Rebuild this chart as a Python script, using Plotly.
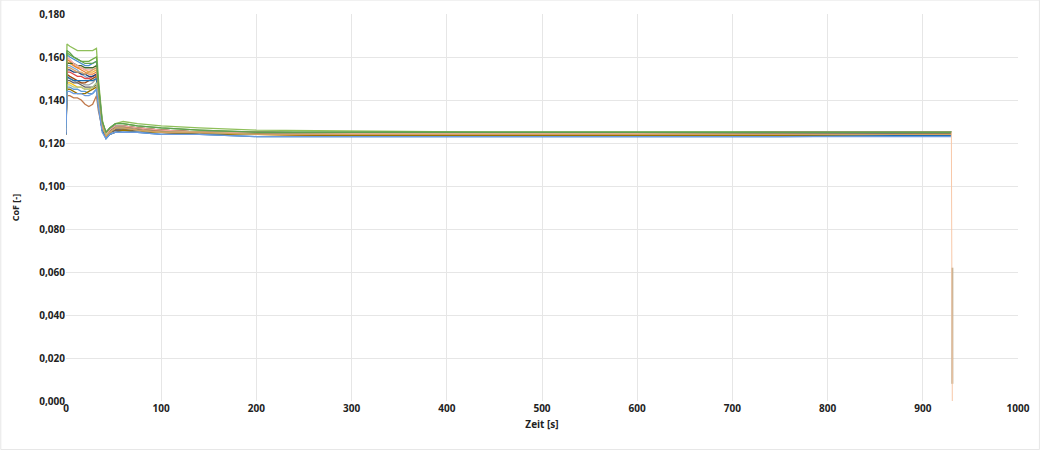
import plotly.graph_objects as go

# time points [s]
T = [0, 1, 4, 8, 12, 16, 20, 24, 28, 32, 34, 38, 42, 46, 52, 60, 75, 100, 140, 200, 300, 450, 600, 750, 900, 930]

s01 = [0.125, 0.166, 0.165, 0.164, 0.163, 0.163, 0.163, 0.163, 0.163, 0.164, 0.150, 0.131, 0.124, 0.127, 0.129, 0.130, 0.129, 0.128, 0.127, 0.126, 0.1255, 0.125, 0.125, 0.125, 0.125, 0.125]
s02 = [0.128, 0.142, 0.142, 0.141, 0.141, 0.140, 0.138, 0.137, 0.138, 0.142, 0.135, 0.127, 0.123, 0.125, 0.126, 0.126, 0.126, 0.125, 0.125, 0.124, 0.124, 0.124, 0.124, 0.124, 0.124, 0.124]
s03 = [0.126, 0.161, 0.160, 0.159, 0.158, 0.157, 0.156, 0.156, 0.157, 0.158, 0.146, 0.129, 0.124, 0.126, 0.128, 0.128, 0.127, 0.126, 0.125, 0.125, 0.124, 0.124, 0.124, 0.124, 0.124, 0.124]
s04 = [0.124, 0.158, 0.157, 0.156, 0.155, 0.155, 0.154, 0.153, 0.153, 0.154, 0.144, 0.128, 0.123, 0.125, 0.127, 0.128, 0.127, 0.126, 0.125, 0.124, 0.124, 0.124, 0.124, 0.124, 0.124, 0.124]
s05 = [0.127, 0.156, 0.156, 0.155, 0.154, 0.152, 0.151, 0.150, 0.151, 0.152, 0.142, 0.128, 0.124, 0.126, 0.127, 0.127, 0.127, 0.126, 0.125, 0.125, 0.124, 0.124, 0.1245, 0.1245, 0.1245, 0.1245]
s06 = [0.125, 0.153, 0.153, 0.152, 0.151, 0.151, 0.150, 0.150, 0.151, 0.152, 0.141, 0.127, 0.123, 0.125, 0.126, 0.127, 0.126, 0.126, 0.125, 0.124, 0.124, 0.124, 0.124, 0.124, 0.124, 0.124]
s07 = [0.126, 0.150, 0.150, 0.149, 0.148, 0.148, 0.147, 0.147, 0.148, 0.150, 0.140, 0.127, 0.124, 0.126, 0.127, 0.128, 0.127, 0.126, 0.125, 0.125, 0.1245, 0.1245, 0.1245, 0.125, 0.125, 0.125]
s08 = [0.124, 0.148, 0.148, 0.147, 0.146, 0.146, 0.145, 0.145, 0.146, 0.147, 0.139, 0.126, 0.123, 0.125, 0.126, 0.126, 0.126, 0.125, 0.124, 0.124, 0.1235, 0.1235, 0.1235, 0.1235, 0.124, 0.124]
s09 = [0.125, 0.146, 0.146, 0.145, 0.145, 0.144, 0.144, 0.143, 0.143, 0.145, 0.137, 0.126, 0.123, 0.125, 0.126, 0.127, 0.126, 0.125, 0.125, 0.124, 0.124, 0.124, 0.124, 0.124, 0.124, 0.124]
s10 = [0.126, 0.162, 0.161, 0.160, 0.159, 0.158, 0.158, 0.158, 0.159, 0.160, 0.148, 0.130, 0.125, 0.127, 0.129, 0.129, 0.128, 0.127, 0.126, 0.125, 0.125, 0.125, 0.125, 0.125, 0.125, 0.125]
s11 = [0.125, 0.159, 0.158, 0.156, 0.155, 0.154, 0.153, 0.152, 0.152, 0.153, 0.143, 0.128, 0.124, 0.126, 0.127, 0.127, 0.127, 0.126, 0.125, 0.124, 0.124, 0.124, 0.124, 0.124, 0.124, 0.124]
s12 = [0.127, 0.154, 0.154, 0.153, 0.153, 0.152, 0.152, 0.151, 0.151, 0.152, 0.142, 0.127, 0.123, 0.126, 0.127, 0.127, 0.126, 0.125, 0.125, 0.124, 0.124, 0.124, 0.124, 0.124, 0.1245, 0.1245]
s13 = [0.124, 0.152, 0.151, 0.150, 0.149, 0.148, 0.148, 0.149, 0.150, 0.151, 0.141, 0.127, 0.123, 0.125, 0.126, 0.126, 0.126, 0.125, 0.124, 0.124, 0.1235, 0.1235, 0.124, 0.124, 0.124, 0.124]
s14 = [0.126, 0.149, 0.149, 0.148, 0.148, 0.147, 0.146, 0.146, 0.146, 0.147, 0.139, 0.126, 0.124, 0.125, 0.126, 0.126, 0.126, 0.125, 0.125, 0.124, 0.124, 0.124, 0.124, 0.124, 0.124, 0.124]
s15 = [0.125, 0.145, 0.145, 0.144, 0.143, 0.143, 0.143, 0.144, 0.145, 0.146, 0.138, 0.126, 0.123, 0.124, 0.125, 0.126, 0.125, 0.125, 0.124, 0.124, 0.1235, 0.1235, 0.1235, 0.1235, 0.124, 0.124]
s16 = [0.126, 0.157, 0.157, 0.157, 0.156, 0.156, 0.155, 0.155, 0.155, 0.156, 0.145, 0.128, 0.124, 0.126, 0.128, 0.128, 0.127, 0.126, 0.125, 0.125, 0.1245, 0.1245, 0.1245, 0.125, 0.125, 0.125]
s17 = [0.125, 0.160, 0.159, 0.157, 0.156, 0.155, 0.154, 0.154, 0.154, 0.155, 0.145, 0.129, 0.124, 0.126, 0.128, 0.128, 0.127, 0.126, 0.125, 0.125, 0.1245, 0.1245, 0.1245, 0.125, 0.125, 0.125]
s18 = [0.124, 0.151, 0.150, 0.149, 0.149, 0.149, 0.149, 0.149, 0.149, 0.150, 0.140, 0.126, 0.122, 0.124, 0.125, 0.125, 0.125, 0.124, 0.124, 0.123, 0.123, 0.123, 0.123, 0.123, 0.1235, 0.1235]
s19 = [0.126, 0.147, 0.147, 0.146, 0.146, 0.146, 0.145, 0.145, 0.146, 0.148, 0.139, 0.127, 0.124, 0.125, 0.127, 0.127, 0.126, 0.125, 0.125, 0.124, 0.124, 0.124, 0.124, 0.124, 0.124, 0.124]
s20 = [0.125, 0.155, 0.155, 0.154, 0.153, 0.153, 0.152, 0.153, 0.154, 0.155, 0.144, 0.128, 0.123, 0.125, 0.127, 0.127, 0.126, 0.125, 0.125, 0.124, 0.124, 0.124, 0.124, 0.124, 0.124, 0.124]
s21 = [0.127, 0.163, 0.162, 0.160, 0.159, 0.158, 0.157, 0.157, 0.157, 0.158, 0.147, 0.130, 0.125, 0.127, 0.129, 0.129, 0.128, 0.127, 0.126, 0.125, 0.125, 0.125, 0.125, 0.125, 0.125, 0.125]
s22 = [0.124, 0.144, 0.144, 0.143, 0.143, 0.143, 0.142, 0.142, 0.143, 0.145, 0.137, 0.125, 0.122, 0.124, 0.125, 0.125, 0.125, 0.124, 0.124, 0.123, 0.123, 0.123, 0.123, 0.123, 0.123, 0.123]

SERIES = [s01, s02, s03, s04, s05, s06, s07, s08, s09, s10, s11,
          s12, s13, s14, s15, s16, s17, s18, s19, s20, s21, s22]

COLORS = ["#8FBF5A", "#C0784A", "#4A8FD0", "#F0B040", "#7FA8D8", "#E04848",
          "#A0A0A0", "#FFC000", "#5B9BD5", "#70AD47", "#ED7D31", "#264478",
          "#9E480E", "#636363", "#997300", "#43682B", "#F4A6A0", "#1F6FB0",
          "#B0C890", "#D4A060", "#5FA050", "#6A9AE0"]

# final drop at end of test
DROP_T = [930, 931]
DROP_A = [0.125, 0.000]
DROP_B_T = [931, 931]
DROP_B = [0.062, 0.008]

fig = go.Figure()
for vals, col in zip(SERIES, COLORS):
    fig.add_trace(go.Scatter(x=T, y=vals, mode="lines",
                             line=dict(color=col, width=1.3), showlegend=False))
fig.add_trace(go.Scatter(x=DROP_B_T, y=DROP_B, mode="lines",
                         line=dict(color="#B8A888", width=2), showlegend=False))
fig.add_trace(go.Scatter(x=DROP_T, y=DROP_A, mode="lines",
                         line=dict(color="#F8C8A8", width=1), showlegend=False))

tf = dict(size=10, color="#222222", family="Open Sans", weight=700)
fig.update_layout(
    width=1040, height=450,
    margin=dict(l=66, r=22, t=14, b=49),
    paper_bgcolor="white", plot_bgcolor="white",
    separators=",.",
    font=dict(family="Open Sans", size=10, color="#222222"),
    xaxis=dict(range=[0, 1000], dtick=100, showgrid=True, gridcolor="#e6e6e6",
               gridwidth=1.2, automargin=False,
               zeroline=False, showline=False, ticks="",
               title=dict(text="Zeit [s]", font=tf, standoff=6),
               tickfont=tf),
    yaxis=dict(range=[0, 0.18], dtick=0.02, tickformat=".3f", showgrid=True,
               gridcolor="#e6e6e6", gridwidth=1.2, automargin=False,
               zeroline=False, showline=False, ticks="",
               title=dict(text="CoF [-]", font=dict(size=9, color="#222222", family="Open Sans", weight=700), standoff=18),
               tickfont=tf),
    shapes=[dict(type="rect", xref="paper", yref="paper", x0=-0.0685, x1=1.0225,
                 y0=-0.1255, y1=1.036, line=dict(color="#e6e6e6", width=1))],
)

fig.write_html("out.html", config={"displayModeBar": False},
               post_script="document.body.style.margin='0';document.body.style.overflow='hidden';")
